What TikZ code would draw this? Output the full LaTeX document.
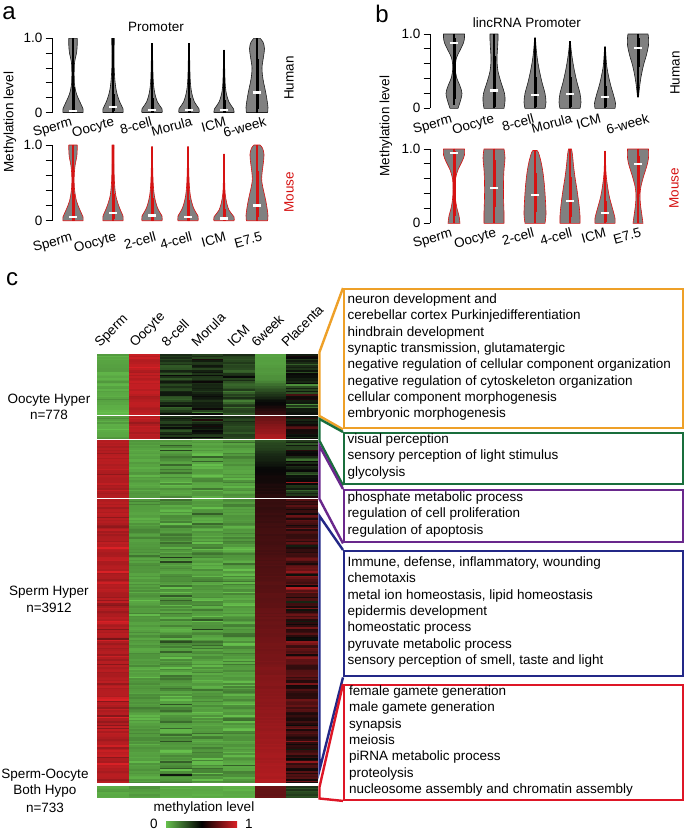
\documentclass[tikz,border=0pt]{standalone}
\usepackage{fontspec}
\setmainfont{Liberation Sans}
\definecolor{vgray}{rgb}{0.5,0.5,0.5}
\definecolor{vdark}{rgb}{0.12,0.12,0.12}
\definecolor{mred}{rgb}{0.84,0.07,0.07}
\definecolor{cOr}{RGB}{238,160,40}
\definecolor{cGr}{RGB}{25,110,60}
\definecolor{cPu}{RGB}{105,40,140}
\definecolor{cBl}{RGB}{35,40,135}
\definecolor{cRd}{RGB}{222,22,38}
\definecolor{hmG}{rgb}{0.40,0.75,0.30}
\definecolor{hmR}{rgb}{0.86,0.13,0.15}

\newcommand\vioshape[7]{%
 \begin{scope}[shift={(#1,#2)},y={(0pt,#3pt)}]
  \fill[vgray] (0,#5) -- plot[smooth,tension=0.55] coordinates {#7} -- (0,#6) -- cycle;
  \draw[#4,line width=0.6pt,line join=round] (0,#5) -- plot[smooth,tension=0.55] coordinates {#7} -- (0,#6);
  \begin{scope}[xscale=-1]
   \fill[vgray] (0,#5) -- plot[smooth,tension=0.55] coordinates {#7} -- (0,#6) -- cycle;
   \draw[#4,line width=0.6pt,line join=round] (0,#5) -- plot[smooth,tension=0.55] coordinates {#7} -- (0,#6);
  \end{scope}
 \end{scope}}

\newcommand\viobox[9]{%
 \begin{scope}[shift={(#1,#2)},y={(0pt,#3pt)}]
  \draw[#4,line width=1.2pt] (0,#5) -- (0,#9);
  \draw[#4,line width=3pt] (0,#6) -- (0,#7);
  \fill[white] ([xshift=-3.6pt,yshift=-1.1pt]0,#8) rectangle ([xshift=3.6pt,yshift=1.1pt]0,#8);
 \end{scope}}

\newcommand\hmcol[7]{%
  \pgfmathsetmacro\hmxa{97+31.5*(#1-1)}%
  \pgfmathsetmacro\hmxb{\hmxa+31.7}%
  \pgfmathtruncatemacro\hmn{(#3-#2)/1.6}%
  \foreach \k in {0,...,\hmn}{%
    \pgfmathsetmacro\hmy{#2+1.6*\k}%
    \pgfmathsetmacro\hmyb{min(#3,\hmy+1.9)}%
    \pgfmathsetmacro\hmv{max(0,min(1,#4+(#5-#4)*\k/max(1,\hmn)+#6*rand*rand*rand+#7*rand))}%
    \pgfmathsetmacro\hmr{\hmv<0.5 ? 0.40*(1-2*\hmv)+0.03*2*\hmv : 0.03*(2-2*\hmv)+0.86*(2*\hmv-1)}%
    \pgfmathsetmacro\hmg{\hmv<0.5 ? 0.75*(1-2*\hmv)+0.03*2*\hmv : 0.03*(2-2*\hmv)+0.13*(2*\hmv-1)}%
    \pgfmathsetmacro\hmb{\hmv<0.5 ? 0.30*(1-2*\hmv)+0.03*2*\hmv : 0.03*(2-2*\hmv)+0.15*(2*\hmv-1)}%
    \definecolor{hmc}{rgb}{\hmr,\hmg,\hmb}%
    \fill[hmc] (\hmxa,\hmy) rectangle (\hmxb,\hmyb);
  }}

\begin{document}
\begin{tikzpicture}[x=1pt,y=-1pt,
  lab/.style={font=\fontsize{13.5}{16}\selectfont, inner sep=0pt},
  panel/.style={font=\fontsize{24}{26}\selectfont, inner sep=0pt},
  gotext/.style={font=\fontsize{13.5}{16}\selectfont, inner sep=0pt, anchor=base west},
  axis/.style={line width=0.8pt},
  bracket/.style={line width=2.4pt, line join=miter},
  gobox/.style={line width=2.4pt, anchor=north west, inner sep=0pt, minimum height=0pt}]
\useasboundingbox (0,0) rectangle (685,830);
\fill[white] (0,0) rectangle (685,830);
\pgfmathsetseed{12}

% ================= panel a =================
\node[panel] (pa) at (9,13) {a};
\node[lab] (pat) at (156,27) {Promoter};
\node[lab,rotate=90] (pay) at (10,122) {Methylation level};
\node[lab,rotate=90] (pah) at (289,78) {Human};
\node[lab,rotate=90,text=mred] (pam) at (289,192) {Mouse};
\draw[axis] (52,38.3) -- (52,112.5);
\foreach \k in {0,...,5} \draw[axis] (45.5,{112.5-74.2*0.2*\k}) -- (52,{112.5-74.2*0.2*\k});
\node[lab,anchor=east] (pa1) at (42.5,38.3) {1.0};
\node[lab,anchor=east] (pa0) at (42.5,112.5) {0};
\draw[axis] (52,145) -- (52,220.7);
\foreach \k in {0,...,5} \draw[axis] (45.5,{220.7-75.7*0.2*\k}) -- (52,{220.7-75.7*0.2*\k});
\node[lab,anchor=east] (pb1) at (42.5,145) {1.0};
\node[lab,anchor=east] (pb0) at (42.5,220.7) {0};

% human a violins
\vioshape{73}{112.5}{74.2}{vdark}{0}{1}{(10,0)(10,0.05)(7,0.14)(3.5,0.25)(1.5,0.38)(1.2,0.55)(1.6,0.68)(3.5,0.8)(4.2,0.9)(4.2,1)}
\viobox{73}{112.5}{74.2}{black}{0}{0}{0.35}{0.02}{1}
\vioshape{113}{112.5}{74.2}{vdark}{0}{1}{(10,0)(10,0.05)(6.5,0.15)(3.5,0.28)(2,0.42)(1.2,0.6)(1,0.8)(1.3,0.95)(1.3,1)}
\viobox{113}{112.5}{74.2}{black}{0}{0.02}{0.25}{0.07}{1}
\vioshape{152}{112.5}{74.2}{vdark}{0}{0.93}{(10,0)(10,0.05)(5.5,0.14)(2.5,0.28)(1.2,0.45)(0.7,0.7)(0.3,0.93)}
\viobox{152}{112.5}{74.2}{black}{0}{0}{0.2}{0.03}{0.93}
\vioshape{189}{112.5}{74.2}{vdark}{0}{0.93}{(10,0)(10,0.05)(5.5,0.14)(2.5,0.28)(1.2,0.45)(0.7,0.7)(0.3,0.93)}
\viobox{189}{112.5}{74.2}{black}{0}{0}{0.2}{0.03}{0.93}
\vioshape{224}{112.5}{74.2}{vdark}{0}{0.84}{(10,0)(9.5,0.05)(5,0.14)(2,0.28)(1,0.45)(0.3,0.84)}
\viobox{224}{112.5}{74.2}{black}{0}{0}{0.17}{0.03}{0.84}
\vioshape{257}{112.5}{74.2}{vdark}{0}{1}{(10.5,0)(11,0.07)(9,0.25)(6,0.45)(5,0.6)(6.5,0.75)(7.5,0.86)(6,0.95)(3,1)}
\viobox{257}{112.5}{74.2}{black}{0}{0.05}{0.72}{0.27}{1}
% mouse a violins
\vioshape{73}{220.7}{75.7}{mred}{0}{1}{(10,0)(10,0.05)(7,0.14)(3.5,0.26)(1.5,0.42)(1.2,0.58)(2,0.72)(3.8,0.85)(4.2,0.93)(4.2,1)}
\viobox{73}{220.7}{75.7}{mred}{0}{0}{0.35}{0.05}{1}
\vioshape{113}{220.7}{75.7}{mred}{0}{1}{(10,0)(10,0.06)(6.5,0.17)(3,0.32)(1.5,0.5)(1,0.75)(1,0.95)(1,1)}
\viobox{113}{220.7}{75.7}{mred}{0}{0.02}{0.35}{0.1}{1}
\vioshape{152}{220.7}{75.7}{mred}{0}{0.98}{(10,0)(10,0.06)(5.5,0.17)(2.5,0.32)(1.2,0.5)(0.6,0.75)(0.3,0.98)}
\viobox{152}{220.7}{75.7}{mred}{0}{0}{0.3}{0.07}{0.98}
\vioshape{188}{220.7}{75.7}{mred}{0}{0.98}{(10,0)(10,0.06)(5.5,0.17)(2.5,0.32)(1.2,0.5)(0.6,0.75)(0.3,0.98)}
\viobox{188}{220.7}{75.7}{mred}{0}{0}{0.28}{0.05}{0.98}
\vioshape{224}{220.7}{75.7}{mred}{0}{0.88}{(10,0)(10,0.05)(5,0.14)(2,0.28)(0.8,0.45)(0.3,0.88)}
\viobox{224}{220.7}{75.7}{mred}{0}{0}{0.15}{0.03}{0.88}
\vioshape{257}{220.7}{75.7}{mred}{0}{1}{(10.5,0)(11,0.07)(9,0.25)(5,0.5)(5,0.62)(6.5,0.78)(7,0.88)(5.5,0.96)(3,1)}
\viobox{257}{220.7}{75.7}{mred}{0}{0.05}{0.65}{0.2}{1}
\foreach \t/\x [count=\i] in {Sperm/73,Oocyte/115,8-cell/153,Morula/193,ICM/227,6-week/267}
  \node[lab,rotate=15,anchor=base east] (lah\i) at (\x,126) {\t};
\foreach \t/\x [count=\i] in {Sperm/73,Oocyte/117,2-cell/157,4-cell/193,ICM/227,E7.5/263}
  \node[lab,rotate=15,anchor=base east] (lam\i) at (\x,241) {\t};

% ================= panel b =================
\node[panel] (pbb) at (382,14) {b};
\node[lab] (pbt) at (527,23) {lincRNA Promoter};
\node[lab,rotate=90] (pby) at (386,126) {Methylation level};
\node[lab,rotate=90] (pbh) at (675,73) {Human};
\node[lab,rotate=90,text=mred] (pbm) at (674,188) {Mouse};
\draw[axis] (430,34) -- (430,108.3);
\foreach \k in {0,...,5} \draw[axis] (423.5,{108.3-74.3*0.2*\k}) -- (430,{108.3-74.3*0.2*\k});
\node[lab,anchor=east] (pc1) at (420.5,34) {1.0};
\node[lab,anchor=east] (pc0) at (420.5,108.3) {0};
\draw[axis] (430,149) -- (430,223.3);
\foreach \k in {0,...,5} \draw[axis] (423.5,{223.3-74.3*0.2*\k}) -- (430,{223.3-74.3*0.2*\k});
\node[lab,anchor=east] (pd1) at (420.5,149) {1.0};
\node[lab,anchor=east] (pd0) at (420.5,223.3) {0};
\vioshape{454}{108.3}{74.3}{vdark}{0}{1}{(4,0)(6,0.08)(8,0.2)(6,0.3)(2.5,0.42)(1.2,0.55)(2.5,0.68)(6,0.78)(9.5,0.88)(10.5,0.95)(10.5,1)}
\viobox{454}{108.3}{74.3}{black}{0.05}{0.12}{0.95}{0.88}{1}
\vioshape{494}{108.3}{74.3}{vdark}{0}{1}{(10,0)(11,0.1)(10.5,0.2)(7,0.35)(4,0.5)(3,0.65)(3.5,0.8)(4,0.92)(4,1)}
\viobox{494}{108.3}{74.3}{black}{0}{0.02}{0.7}{0.24}{1}
\vioshape{535}{108.3}{74.3}{vdark}{0}{0.95}{(10,0)(11,0.08)(10,0.2)(7,0.35)(4.5,0.5)(2.5,0.65)(1.2,0.8)(0.4,0.95)}
\viobox{535}{108.3}{74.3}{black}{0}{0.02}{0.42}{0.18}{0.95}
\vioshape{570}{108.3}{74.3}{vdark}{0}{0.9}{(10,0)(11,0.08)(10,0.2)(7,0.35)(4.5,0.5)(2.5,0.65)(1.2,0.78)(0.4,0.9)}
\viobox{570}{108.3}{74.3}{black}{0}{0.02}{0.42}{0.19}{0.9}
\vioshape{605}{108.3}{74.3}{vdark}{0}{0.83}{(10,0)(10.5,0.07)(8.5,0.18)(5.5,0.32)(3,0.47)(1.5,0.6)(0.4,0.83)}
\viobox{605}{108.3}{74.3}{black}{0}{0.02}{0.3}{0.15}{0.83}
\vioshape{638}{108.3}{74.3}{vdark}{0.15}{1}{(0.5,0.15)(1.5,0.28)(3,0.42)(5.5,0.58)(8.5,0.72)(10.5,0.85)(10.5,0.95)(10,1)}
\viobox{638}{108.3}{74.3}{black}{0.15}{0.55}{0.95}{0.81}{1}
\vioshape{454}{223.3}{74.3}{mred}{0}{1}{(6,0)(5,0.1)(3,0.2)(1.5,0.32)(1,0.45)(1.5,0.6)(4,0.72)(8,0.83)(10.5,0.92)(10.5,1)}
\viobox{454}{223.3}{74.3}{mred}{0}{0.1}{0.97}{0.95}{1}
\vioshape{494}{223.3}{74.3}{mred}{0}{1}{(10,0)(10,0.15)(9.5,0.35)(9.5,0.55)(10,0.72)(11,0.88)(10,1)}
\viobox{494}{223.3}{74.3}{mred}{0}{0.22}{0.85}{0.48}{1}
\vioshape{535}{223.3}{74.3}{mred}{0}{0.98}{(10,0)(11,0.12)(10.5,0.3)(9.5,0.5)(8,0.68)(6,0.83)(3.5,0.95)(2,0.98)}
\viobox{535}{223.3}{74.3}{mred}{0}{0.15}{0.68}{0.38}{0.98}
\vioshape{570}{223.3}{74.3}{mred}{0}{1}{(10,0)(10,0.1)(9,0.25)(7,0.45)(5,0.62)(3.5,0.78)(2.5,0.92)(1.5,1)}
\viobox{570}{223.3}{74.3}{mred}{0}{0.08}{0.62}{0.3}{1}
\vioshape{605}{223.3}{74.3}{mred}{0}{0.97}{(10,0)(10,0.07)(7.5,0.2)(4.5,0.35)(2.5,0.5)(1,0.68)(0.3,0.97)}
\viobox{605}{223.3}{74.3}{mred}{0}{0.02}{0.3}{0.14}{0.97}
\vioshape{638}{223.3}{74.3}{mred}{0}{1}{(5,0)(4,0.1)(2.5,0.25)(2,0.38)(3,0.5)(6,0.65)(9,0.78)(10.5,0.88)(10.5,1)}
\viobox{638}{223.3}{74.3}{mred}{0}{0.4}{0.9}{0.8}{1}
\foreach \t/\x [count=\i] in {Sperm/453,Oocyte/495,8-cell/535,Morula/573,ICM/602,6-week/650}
  \node[lab,rotate=15,anchor=base east] (lbh\i) at (\x,123) {\t};
\foreach \t/\x [count=\i] in {Sperm/453,Oocyte/497,2-cell/535,4-cell/573,ICM/607,E7.5/642}
  \node[lab,rotate=15,anchor=base east] (lbm\i) at (\x,237) {\t};

% ================= panel c =================
\node[panel] (pcc) at (12,279) {c};
\foreach \t/\x [count=\i] in {Sperm/100,Oocyte/135,8-cell/167,Morula/197,ICM/233,6week/257,Placenta/287}
  \node[lab,rotate=45,anchor=base west] (hc\i) at (\x,348) {\t};
% block A
\hmcol{1}{354}{414.5}{0.06}{0.06}{0.1}{0.03}
\hmcol{2}{354}{414.5}{0.92}{0.92}{0.1}{0.02}
\hmcol{3}{354}{414.5}{0.36}{0.36}{0.3}{0.08}
\hmcol{4}{354}{414.5}{0.42}{0.42}{0.25}{0.06}
\hmcol{5}{354}{414.5}{0.32}{0.32}{0.25}{0.06}
\hmcol{6}{354}{378}{0.07}{0.12}{0}{0.01}
\hmcol{6}{378}{403}{0.12}{0.5}{0}{0.01}
\hmcol{6}{403}{414.5}{0.5}{0.62}{0}{0.01}
\hmcol{7}{354}{414.5}{0.42}{0.42}{0.5}{0.1}
% block B
\hmcol{1}{416}{438.5}{0.07}{0.07}{0.1}{0.03}
\hmcol{2}{416}{438.5}{0.92}{0.92}{0.1}{0.02}
\hmcol{3}{416}{438.5}{0.4}{0.4}{0.3}{0.06}
\hmcol{4}{416}{438.5}{0.42}{0.42}{0.25}{0.06}
\hmcol{5}{416}{438.5}{0.35}{0.35}{0.25}{0.06}
\hmcol{6}{416}{438.5}{0.72}{0.9}{0}{0.01}
\hmcol{7}{416}{438.5}{0.55}{0.55}{0.4}{0.1}
% block C
\hmcol{1}{440}{497.5}{0.9}{0.9}{0.1}{0.02}
\hmcol{2}{440}{497.5}{0.08}{0.08}{0.1}{0.03}
\hmcol{3}{440}{497.5}{0.1}{0.1}{0.3}{0.04}
\hmcol{4}{440}{497.5}{0.08}{0.08}{0.25}{0.03}
\hmcol{5}{440}{497.5}{0.1}{0.1}{0.2}{0.03}
\hmcol{6}{440}{470}{0.3}{0.5}{0}{0.01}
\hmcol{6}{470}{497.5}{0.5}{0.58}{0}{0.01}
\hmcol{7}{440}{497.5}{0.42}{0.42}{0.5}{0.1}
% block D
\hmcol{1}{499}{783}{0.9}{0.9}{0.2}{0.02}
\hmcol{2}{499}{783}{0.1}{0.1}{0.12}{0.03}
\hmcol{3}{499}{783}{0.12}{0.12}{0.5}{0.04}
\hmcol{4}{499}{783}{0.1}{0.1}{0.35}{0.04}
\hmcol{5}{499}{783}{0.1}{0.1}{0.3}{0.03}
\hmcol{6}{499}{783}{0.6}{0.9}{0}{0.01}
\hmcol{7}{499}{783}{0.62}{0.62}{0.35}{0.1}
% block E
\hmcol{1}{786}{798}{0.08}{0.08}{0}{0.03}
\hmcol{2}{786}{798}{0.1}{0.1}{0}{0.03}
\hmcol{3}{786}{798}{0.05}{0.05}{0}{0.02}
\hmcol{4}{786}{798}{0.05}{0.05}{0}{0.02}
\hmcol{5}{786}{798}{0.05}{0.05}{0}{0.02}
\hmcol{6}{786}{798}{0.72}{0.72}{0}{0.02}
\hmcol{7}{786}{798}{0.35}{0.35}{0.1}{0.05}

% group labels
\node[lab] (g1a) at (49,400) {Oocyte Hyper};
\node[lab] (g1b) at (49,415) {n=778};
\node[lab] (g2a) at (49,592) {Sperm Hyper};
\node[lab] (g2b) at (49,608) {n=3912};
\node[lab] (g3a) at (45,775) {Sperm-Oocyte};
\node[lab] (g3b) at (45,791) {Both Hypo};
\node[lab] (g3c) at (45,808) {n=733};

% colour bar
\node[lab] (cbt) at (204,808) {methylation level};
\shade[left color=hmG, right color=hmR, middle color=black] (166,821) rectangle (237,827);
\node[lab] (cb0) at (154,824) {0};
\node[lab] (cb1) at (249,824) {1};

% GO boxes
\node[gobox,draw=cOr,minimum width=339pt,minimum height=139pt] (bO) at (343,288) {};
\node[gobox,draw=cGr,minimum width=339pt,minimum height=51pt] (bG) at (343,432) {};
\node[gobox,draw=cPu,minimum width=339pt,minimum height=52pt] (bP) at (343,489) {};
\node[gobox,draw=cBl,minimum width=339pt,minimum height=125pt] (bB) at (343,550) {};
\node[gobox,draw=cRd,minimum width=339pt,minimum height=114.5pt] (bR) at (343,684) {};

\coordinate (hO1) at (319.5,352); \coordinate (hO2) at (319.5,416);
\coordinate (hG1) at (319.5,419); \coordinate (hG2) at (319.5,441);
\coordinate (hP1) at (319.5,446); \coordinate (hP2) at (319.5,499);
\coordinate (hB1) at (319.5,516); \coordinate (hB2) at (319.5,770);
\coordinate (hR1) at (319.5,787); \coordinate (hR2) at (319.5,798.5);
\draw[bracket,cOr] (bO.north west) -- (hO1) -- (hO2) -- (bO.south west);
\draw[bracket,cGr] (bG.north west) -- (hG1) -- (hG2) -- (bG.south west);
\draw[bracket,cPu] (bP.north west) -- (hP1) -- (hP2) -- (bP.south west);
\draw[bracket,cBl] (bB.north west) -- (hB1) -- (hB2) -- (bB.south west);
\draw[bracket,cRd] (bR.north west) -- (hR1) -- (hR2) -- (bR.south west);

\foreach \t [count=\i from 0] in {neuron development and,cerebellar cortex Purkinjedifferentiation,hindbrain development,{synaptic transmission, glutamatergic},negative regulation of cellular component organization,negative regulation of cytoskeleton organization,cellular component morphogenesis,embryonic morphogenesis}
  \node[gotext] (to\i) at (347.3,{303.5+16.3*\i}) {\t};
\foreach \t [count=\i from 0] in {visual perception,sensory perception of light stimulus,glycolysis}
  \node[gotext] (tg\i) at (347.3,{443.5+16.3*\i}) {\t};
\foreach \t [count=\i from 0] in {phosphate metabolic process,regulation of cell proliferation,regulation of apoptosis}
  \node[gotext] (tp\i) at (347.3,{501.5+16.3*\i}) {\t};
\foreach \t [count=\i from 0] in {{Immune, defense, inflammatory, wounding},chemotaxis,{metal ion homeostasis, lipid homeostasis},epidermis development,homeostatic process,pyruvate metabolic process,{sensory perception of smell, taste and light}}
  \node[gotext] (tb\i) at (347.3,{566.5+16.3*\i}) {\t};
\foreach \t [count=\i from 0] in {female gamete generation,male gamete generation,synapsis,meiosis,piRNA metabolic process,proteolysis,nucleosome assembly and chromatin assembly}
  \node[gotext] (tr\i) at (349,{695.5+16.3*\i}) {\t};
\end{tikzpicture}
\end{document}
